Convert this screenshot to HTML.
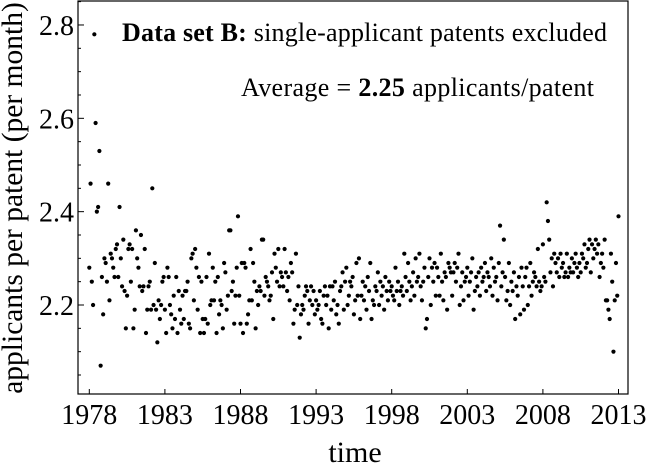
<!DOCTYPE html>
<html><head><meta charset="utf-8"><style>
body{margin:0;background:#fff}
svg{display:block;font-family:"Liberation Serif",serif}
</style></head><body>
<svg id="chart" width="648" height="468" viewBox="0 0 648 468">
<rect x="78" y="1" width="550" height="393" fill="none" stroke="#000" stroke-width="1.2"/>
<g id="ticks"></g>
<g id="points"></g>
<text x="22" y="198" font-size="29.5" text-anchor="middle" transform="rotate(-90 22 198)">applicants per patent (per month)</text>
<text x="355" y="462" font-size="30" text-anchor="middle">time</text>
<g>
<text x="122" y="41" font-size="26" textLength="485"><tspan font-weight="bold">Data set B:</tspan> single-applicant patents excluded</text>
<text x="241" y="96" font-size="26" textLength="353">Average = <tspan font-weight="bold">2.25</tspan> applicants/patent</text>
</g>
</svg>
<script>
const startYear = 1978;
const yTicks = [2.2, 2.4, 2.6, 2.8];
const xTicks = [1978, 1983, 1988, 1993, 1998, 2003, 2008, 2013];
const values = [
2.28,2.46,2.25,2.20,2.78,2.59,2.40,2.41,2.53,2.07,2.26,2.18,
2.30,2.29,2.25,2.46,2.21,2.31,2.30,2.28,2.26,2.32,2.33,2.26,
2.41,2.30,2.24,2.34,2.23,2.15,2.22,2.32,2.33,2.25,2.32,2.15,
2.19,2.36,2.30,2.28,2.24,2.35,2.23,2.24,2.32,2.14,2.19,2.24,
2.25,2.19,2.45,2.20,2.29,2.19,2.12,2.21,2.17,2.20,2.25,2.26,
2.19,2.14,2.28,2.26,2.20,2.18,2.15,2.22,2.17,2.26,2.14,2.23,
2.19,2.16,2.22,2.17,2.23,2.23,2.25,2.16,2.15,2.30,2.31,2.21,
2.32,2.28,2.19,2.26,2.14,2.25,2.17,2.14,2.17,2.26,2.16,2.31,
2.20,2.21,2.28,2.21,2.25,2.14,2.26,2.18,2.21,2.20,2.15,2.29,
2.27,2.19,2.22,2.36,2.36,2.23,2.25,2.16,2.22,2.28,2.39,2.22,
2.16,2.29,2.14,2.29,2.28,2.16,2.18,2.21,2.32,2.21,2.29,2.25,
2.15,2.23,2.20,2.24,2.23,2.34,2.34,2.22,2.26,2.25,2.24,2.21,
2.22,2.27,2.17,2.31,2.28,2.25,2.32,2.24,2.27,2.26,2.24,2.32,
2.27,2.23,2.26,2.21,2.29,2.27,2.16,2.19,2.31,2.20,2.24,2.13,
2.18,2.20,2.19,2.22,2.24,2.23,2.16,2.21,2.24,2.20,2.23,2.18,
2.21,2.19,2.20,2.23,2.17,2.16,2.22,2.24,2.20,2.22,2.15,2.24,
2.19,2.24,2.21,2.25,2.18,2.20,2.16,2.23,2.24,2.27,2.19,2.25,
2.28,2.20,2.22,2.25,2.24,2.26,2.18,2.21,2.29,2.22,2.30,2.17,
2.22,2.25,2.21,2.24,2.19,2.26,2.23,2.29,2.17,2.21,2.20,2.24,
2.23,2.27,2.20,2.25,2.22,2.24,2.19,2.26,2.23,2.21,2.25,2.23,
2.24,2.22,2.21,2.28,2.23,2.25,2.20,2.23,2.24,2.22,2.31,2.26,
2.23,2.29,2.25,2.21,2.24,2.27,2.22,2.30,2.25,2.26,2.31,2.24,
2.21,2.25,2.28,2.15,2.17,2.26,2.30,2.20,2.28,2.25,2.29,2.22,
2.28,2.26,2.22,2.31,2.25,2.21,2.27,2.26,2.19,2.29,2.28,2.27,
2.22,2.27,2.29,2.25,2.28,2.31,2.20,2.24,2.27,2.21,2.25,2.26,
2.28,2.22,2.25,2.27,2.30,2.19,2.23,2.26,2.24,2.27,2.22,2.28,
2.25,2.26,2.29,2.23,2.27,2.26,2.24,2.30,2.22,2.28,2.25,2.26,
2.21,2.29,2.37,2.24,2.27,2.34,2.26,2.21,2.23,2.29,2.20,2.25,
2.23,2.27,2.17,2.24,2.22,2.26,2.18,2.28,2.24,2.19,2.26,2.28,
2.20,2.24,2.29,2.22,2.25,2.27,2.26,2.24,2.32,2.25,2.23,2.24,
2.33,2.26,2.25,2.42,2.38,2.34,2.27,2.30,2.24,2.31,2.29,2.27,
2.30,2.26,2.31,2.28,2.29,2.26,2.27,2.31,2.26,2.28,2.27,2.30,
2.27,2.29,2.31,2.28,2.26,2.29,2.27,2.31,2.30,2.33,2.28,2.29,
2.32,2.34,2.27,2.33,2.30,2.32,2.34,2.31,2.33,2.26,2.29,2.31,
2.28,2.34,2.21,2.21,2.19,2.17,2.31,2.25,2.10,2.21,2.29,2.22,
2.39];
const NS = "http://www.w3.org/2000/svg";
const xPx = t => 89.3 + (t - 1978) * 15.12;
const yPx = v => 305 - (v - 2.2) * 466.7;
const tg = document.getElementById('ticks');
for (const t of xTicks) {
  const l = document.createElementNS(NS, 'line');
  l.setAttribute('x1', xPx(t)); l.setAttribute('x2', xPx(t));
  l.setAttribute('y1', 394); l.setAttribute('y2', 389);
  l.setAttribute('stroke', '#000');
  
  
  tg.appendChild(l);
  const tx = document.createElementNS(NS, 'text');
  tx.setAttribute('x', xPx(t)); tx.setAttribute('y', 424);
  tx.setAttribute('text-anchor', 'middle'); tx.setAttribute('font-size', '28');
  tx.textContent = t;
  
  
  tg.appendChild(tx);
}
for (let v = 2.05; v <= 2.851; v += 0.05) {
  const major = Math.abs(v * 10 - Math.round(v * 10)) < 1e-6 && Math.round(v * 10) % 2 === 0;
  const l = document.createElementNS(NS, 'line');
  l.setAttribute('x1', 78); l.setAttribute('x2', major ? 84 : 81);
  l.setAttribute('y1', yPx(v)); l.setAttribute('y2', yPx(v));
  l.setAttribute('stroke', '#000');
  
  
  tg.appendChild(l);
}
for (const v of yTicks) {
  const tx = document.createElementNS(NS, 'text');
  tx.setAttribute('x', 74); tx.setAttribute('y', yPx(v) + 10);
  tx.setAttribute('text-anchor', 'end'); tx.setAttribute('font-size', '28');
  tx.textContent = v.toFixed(1);
  
  
  tg.appendChild(tx);
}
const pg = document.getElementById('points');
values.forEach((v, i) => {
  const c = document.createElementNS(NS, 'circle');
  c.setAttribute('cx', xPx(startYear + i / 12));
  c.setAttribute('cy', yPx(v));
  c.setAttribute('r', 2.1);
  c.setAttribute('fill', '#000');
  
  
  pg.appendChild(c);
});
</script>
</body></html>
